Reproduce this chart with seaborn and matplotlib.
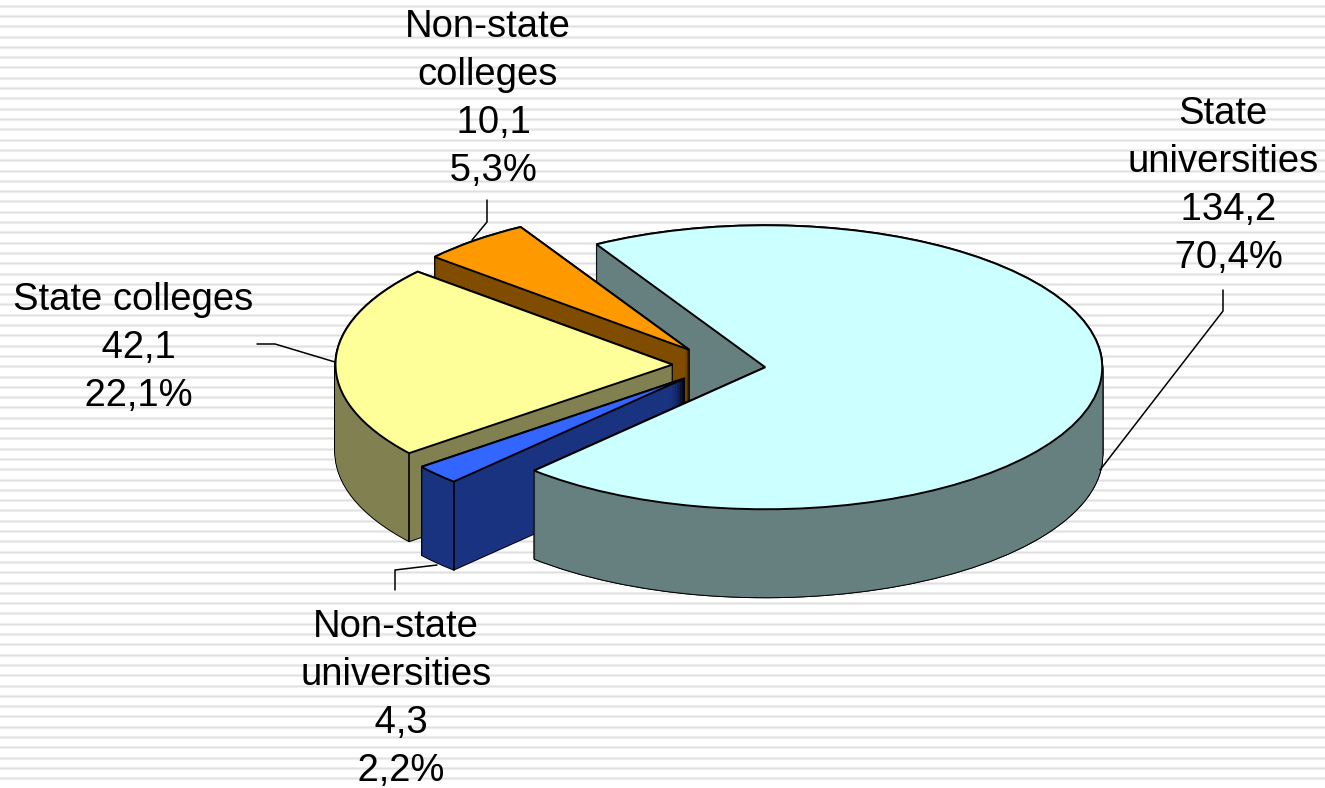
import matplotlib
matplotlib.use("Agg")
import matplotlib.pyplot as plt
from matplotlib.patches import Wedge
import numpy as np
import seaborn as sns

# data
names = ["State\nuniversities", "Non-state\nuniversities", "State colleges", "Non-state\ncolleges"]
values = [134.2, 4.3, 42.1, 10.1]
value_labels = ["134,2", "4,3", "42,1", "10,1"]
pct_labels = ["70,4%", "2,2%", "22,1%", "5,3%"]
top_colors = ["#CCFFFF", "#3366FF", "#FFFF99", "#FF9900"]
side_colors = ["#668080", "#1A3380", "#808050", "#804D00"]

sns.set_theme(style="white")
plt.rcParams["font.family"] = ["Liberation Sans", "DejaVu Sans"]

W, H = 1325, 788
# pie ellipse in pixels
cx_px, cy_px = 719, 365
rx_px, ry_px = 337, 142
depth_px = 88

fig = plt.figure(figsize=(W / 100, H / 100), dpi=100)
ax = fig.add_axes([0, 0, 1, 1])


def px(x, y):
    return (x - cx_px) / rx_px, (cy_px - y) / ry_px


# top faces come from the pie itself
wedges, _ = ax.pie(values, explode=[0.138] * 4, startangle=120.05, counterclock=False, radius=1,
                   colors=sns.color_palette(top_colors),
                   wedgeprops=dict(edgecolor="black", linewidth=1.4, zorder=50))
ax.set_aspect("auto")
ax.set_xlim(px(0, 0)[0], px(W, 0)[0])
ax.set_ylim(px(0, H)[1], px(0, 0)[1])
ax.axis("on")
ax.set_xticks([])
ax.set_yticks([])
for s in ax.spines.values():
    s.set_visible(False)

# striped background
for y in np.arange(5.7, H, 10.3):
    ax.axhline(px(0, y)[1], color="#f1f1f1", lw=2.2, zorder=0)
    ax.axhline(px(0, y)[1], color="#e0e0e0", lw=0.9, zorder=0.1)


def draw_side(w, color, z, t1=None, t2=None):
    # extrude one slice downwards, black copy under the coloured one gives the outline
    t1 = w.theta1 if t1 is None else t1
    t2 = w.theta2 if t2 is None else t2
    cx, cy = w.center
    for k in range(depth_px + 1):
        c = (cx, cy - k / ry_px)
        ax.add_patch(Wedge(c, 1, t1, t2, facecolor="black", edgecolor="black", linewidth=1.4, zorder=z))
        ax.add_patch(Wedge(c, 1, t1, t2, facecolor=color, edgecolor="none", linewidth=0, zorder=z + 0.5))


def crease(w, angle, z):
    cx, cy = w.center
    x = cx + np.cos(np.radians(angle))
    y = cy + np.sin(np.radians(angle))
    ax.plot([x, x], [y, y - depth_px / ry_px], color="black", lw=1.2, zorder=z)


big, blue, yellow, orange = wedges

draw_side(big, side_colors[0], 10)
draw_side(orange, side_colors[3], 12)
draw_side(yellow, side_colors[2], 14)
crease(yellow, yellow.theta2, 15)
draw_side(blue, side_colors[1], 16)
crease(blue, blue.theta2, 17)
# front part of the big slice sits in front of the blue one
draw_side(big, side_colors[0], 18, t1=big.theta1, t2=0)

# leader lines
leaders = [
    [(1223, 290), (1223, 311), (1100, 470)],
    [(395, 590), (395, 570), (437, 565)],
    [(257, 344), (275, 344), (335, 362)],
    [(487, 200), (487, 222), (472, 240)],
]
for pts in leaders:
    xy = np.array([px(*p) for p in pts])
    ax.plot(xy[:, 0], xy[:, 1], color="black", lw=1.1, zorder=60)

# labels
label_pos = [(1223, 186), (396, 699), (133, 348), (488, 99)]
for name, val, pct, (x, y) in zip(names, value_labels, pct_labels, label_pos):
    tx, ty = px(x, y)
    ax.text(tx, ty, f"{name}\n {val}\n {pct}", ha="center", va="center", fontsize=27.5,
            linespacing=1.43, color="black", zorder=70)

fig.savefig("out.png", dpi=100, facecolor="white")
